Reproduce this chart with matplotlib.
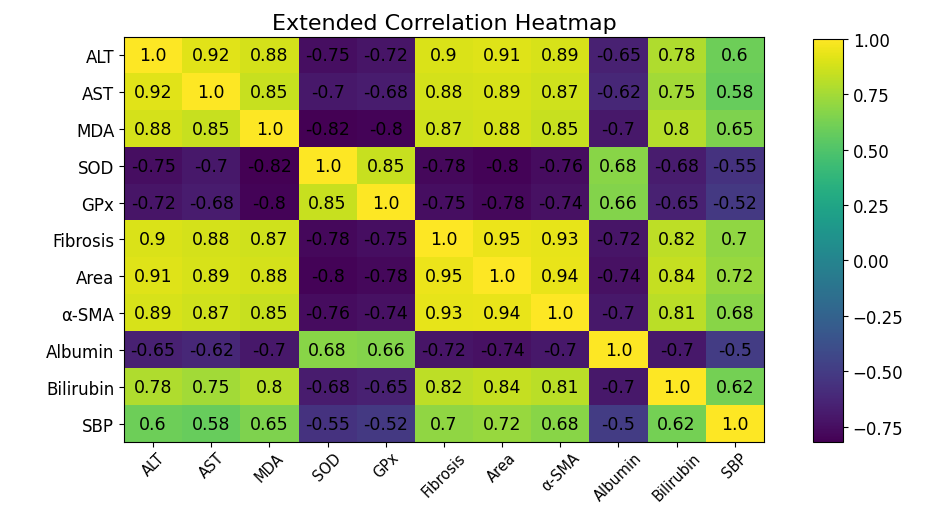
import matplotlib
matplotlib.use("Agg")
import matplotlib.pyplot as plt
import numpy as np

labels = ["ALT", "AST", "MDA", "SOD", "GPx", "Fibrosis", "Area", "α-SMA",
          "Albumin", "Bilirubin", "SBP"]

row_alt = [1.0, 0.92, 0.88, -0.75, -0.72, 0.9, 0.91, 0.89, -0.65, 0.78, 0.6]
row_ast = [0.92, 1.0, 0.85, -0.7, -0.68, 0.88, 0.89, 0.87, -0.62, 0.75, 0.58]
row_mda = [0.88, 0.85, 1.0, -0.82, -0.8, 0.87, 0.88, 0.85, -0.7, 0.8, 0.65]
row_sod = [-0.75, -0.7, -0.82, 1.0, 0.85, -0.78, -0.8, -0.76, 0.68, -0.68, -0.55]
row_gpx = [-0.72, -0.68, -0.8, 0.85, 1.0, -0.75, -0.78, -0.74, 0.66, -0.65, -0.52]
row_fib = [0.9, 0.88, 0.87, -0.78, -0.75, 1.0, 0.95, 0.93, -0.72, 0.82, 0.7]
row_area = [0.91, 0.89, 0.88, -0.8, -0.78, 0.95, 1.0, 0.94, -0.74, 0.84, 0.72]
row_sma = [0.89, 0.87, 0.85, -0.76, -0.74, 0.93, 0.94, 1.0, -0.7, 0.81, 0.68]
row_alb = [-0.65, -0.62, -0.7, 0.68, 0.66, -0.72, -0.74, -0.7, 1.0, -0.7, -0.5]
row_bil = [0.78, 0.75, 0.8, -0.68, -0.65, 0.82, 0.84, 0.81, -0.7, 1.0, 0.62]
row_sbp = [0.6, 0.58, 0.65, -0.55, -0.52, 0.7, 0.72, 0.68, -0.5, 0.62, 1.0]

rows = [row_alt, row_ast, row_mda, row_sod, row_gpx, row_fib, row_area,
        row_sma, row_alb, row_bil, row_sbp]
corr = np.array(rows)

fig = plt.figure(figsize=(9.35, 5.06), dpi=100)
ax = fig.add_axes([0.1326, 0.1245, 0.6844, 0.8005])
cax = fig.add_axes([0.8695, 0.1245, 0.0321, 0.7965])

im = ax.imshow(corr, cmap="viridis", aspect="auto",
               vmin=corr.min(), vmax=corr.max(), interpolation="nearest")

for i in range(len(labels)):
    for j in range(len(labels)):
        ax.text(j, i, str(corr[i, j]), ha="center", va="center",
                color="black", fontsize=12.5)

ax.set_xticks(range(len(labels)))
ax.set_yticks(range(len(labels)))
ax.set_xticklabels(labels, rotation=45, fontsize=10.5)
ax.set_yticklabels(labels, fontsize=12)
ax.tick_params(axis="x", pad=2)
ax.set_title("Extended Correlation Heatmap", fontsize=16, pad=6)

cb = fig.colorbar(im, cax=cax)
cb.set_ticks([1.0, 0.75, 0.5, 0.25, 0.0, -0.25, -0.5, -0.75])
cb.ax.tick_params(labelsize=12)

fig.savefig("out.png", dpi=100)
